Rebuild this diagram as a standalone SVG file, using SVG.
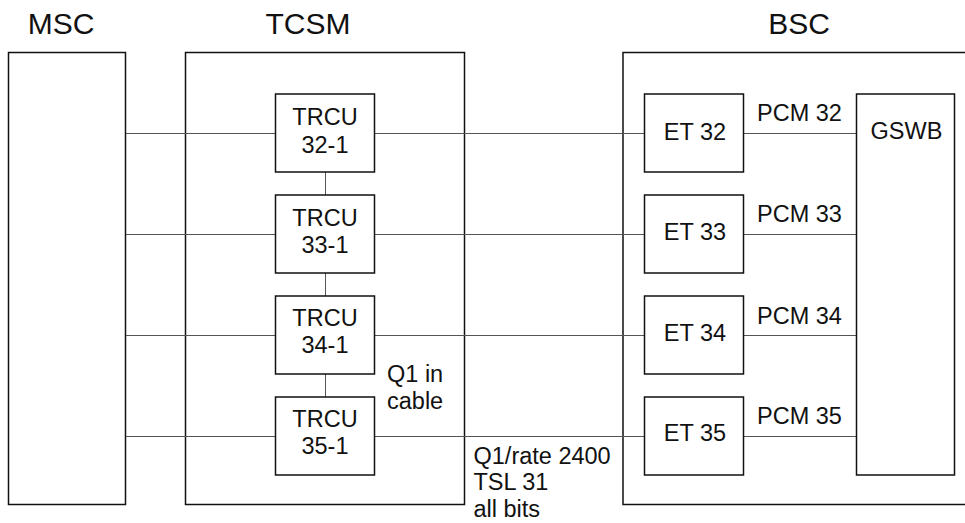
<svg xmlns="http://www.w3.org/2000/svg" width="965" height="523" viewBox="0 0 965 523">
<style>
.box{fill:#fff;stroke:#111;stroke-width:1.5}
.ln{stroke:#555;stroke-width:1;fill:none}
text{font-family:"Liberation Sans",Arial,Helvetica,sans-serif;fill:#111}
.t{font-size:23.5px}
.h{font-size:30px;text-anchor:middle}
.c{text-anchor:middle}
</style>
<rect width="965" height="523" fill="#fff"/>
<g id="MSC"><rect class="box" x="8.5" y="52.5" width="117" height="452"/><text class="h" x="61" y="34">MSC</text></g>
<g id="TCSM"><rect class="box" x="185.5" y="52.5" width="279" height="452"/><text class="h" x="308" y="34">TCSM</text></g>
<g id="BSC"><rect class="box" x="623" y="52.5" width="360" height="452"/><text class="h" x="799" y="34">BSC</text></g>
<g id="connectors">
<path class="ln" d="M126 133.5H275.5M126 234.5H275.5M126 335.5H275.5M126 436.5H275.5"/>
<path class="ln" d="M374.5 133.5H644.5M374.5 234.5H644.5M374.5 335.5H644.5M374.5 436.5H644.5"/>
<path class="ln" d="M743.5 133.5H856.5M743.5 234.5H856.5M743.5 335.5H856.5M743.5 436.5H856.5"/>
<path class="ln" d="M325.5 172V195M325.5 273V296M325.5 374V397"/>
</g>
<g id="TRCU32"><rect class="box" x="275.5" y="94" width="99" height="78"/><text class="t c" x="325" y="125">TRCU</text><text class="t c" x="325" y="152.5">32-1</text></g>
<g id="TRCU33"><rect class="box" x="275.5" y="195" width="99" height="78"/><text class="t c" x="325" y="225.5">TRCU</text><text class="t c" x="325" y="253">33-1</text></g>
<g id="TRCU34"><rect class="box" x="275.5" y="296" width="99" height="78"/><text class="t c" x="325" y="325.5">TRCU</text><text class="t c" x="325" y="353">34-1</text></g>
<g id="TRCU35"><rect class="box" x="275.5" y="397" width="99" height="78"/><text class="t c" x="325" y="426.5">TRCU</text><text class="t c" x="325" y="454">35-1</text></g>
<g id="ET32"><rect class="box" x="644.5" y="94" width="99" height="78"/><text class="t c" x="695" y="139.5">ET 32</text></g>
<g id="ET33"><rect class="box" x="644.5" y="195" width="99" height="78"/><text class="t c" x="695" y="240">ET 33</text></g>
<g id="ET34"><rect class="box" x="644.5" y="296" width="99" height="78"/><text class="t c" x="695" y="340.5">ET 34</text></g>
<g id="ET35"><rect class="box" x="644.5" y="397" width="99" height="78"/><text class="t c" x="695" y="441">ET 35</text></g>
<g id="GSWB"><rect class="box" x="856.5" y="94" width="98" height="381"/><text class="t c" x="906.5" y="138.5">GSWB</text></g>
<g id="labels">
<text class="t" x="757" y="121">PCM 32</text>
<text class="t" x="757" y="222">PCM 33</text>
<text class="t" x="757" y="323.5">PCM 34</text>
<text class="t" x="757" y="424">PCM 35</text>
<text class="t" x="387" y="381.5">Q1 in</text>
<text class="t" x="387" y="408.5">cable</text>
<text class="t" x="473.5" y="463.5">Q1/rate 2400</text>
<text class="t" x="473.5" y="490">TSL 31</text>
<text class="t" x="473.5" y="516.5">all bits</text>
</g>
</svg>
